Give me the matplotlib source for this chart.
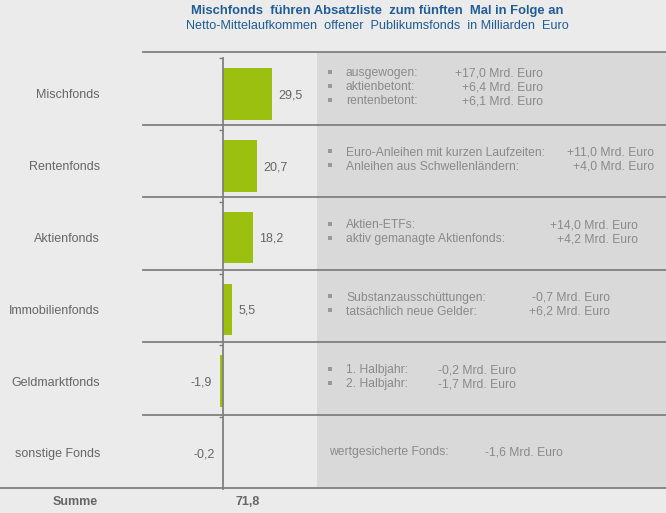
import matplotlib.pyplot as plt
import numpy as np

# data
categories = ["Mischfonds", "Rentenfonds", "Aktienfonds", "Immobilienfonds",
              "Geldmarktfonds", "sonstige Fonds"]
values = [29.5, 20.7, 18.2, 5.5, -1.9, -0.2]
total = 71.8

detail_labels = [
    ["ausgewogen:", "aktienbetont:", "rentenbetont:"],
    ["Euro-Anleihen mit kurzen Laufzeiten:", "Anleihen aus Schwellenländern:"],
    ["Aktien-ETFs:", "aktiv gemanagte Aktienfonds:"],
    ["Substanzausschüttungen:", "tatsächlich neue Gelder:"],
    ["1. Halbjahr:", "2. Halbjahr:"],
    ["wertgesicherte Fonds:"],
]
detail_values = [
    ["+17,0", "+6,4", "+6,1"],
    ["+11,0", "+4,0"],
    ["+14,0", "+4,2"],
    ["-0,7", "+6,2"],
    ["-0,2", "-1,7"],
    ["-1,6"],
]
# right edge of the value column per row (pixels)
value_right = [543, 654, 638, 610, 516, 563]

title = "Mischfonds  führen Absatzliste  zum fünften  Mal in Folge an"
subtitle = "Netto-Mittelaufkommen  offener  Publikumsfonds  in Milliarden  Euro"

W, H = 666, 513
bg = "#ebebeb"
panel = "#d9d9d9"
line_c = "#808080"
green = "#9bc00f"
txt = "#666666"
txt2 = "#8a8a8a"
blue = "#1f5c99"
plt.rcParams["font.family"] = ["Liberation Sans", "DejaVu Sans"]

fig = plt.figure(figsize=(W / 100, H / 100), dpi=100, facecolor=bg)

# overlay in pixel coordinates for panel, separators and text
ov = fig.add_axes([0, 0, 1, 1])
ov.set_xlim(0, W)
ov.set_ylim(H, 0)
ov.axis("off")

top, bottom = 52, 487
n = len(categories)
row_h = (bottom - top) / n
half_cap = 4.3  # half the cap height in px, to place baselines

ov.add_patch(plt.Rectangle((317, top), W - 317, bottom - top, color=panel, lw=0, zorder=0))
for i in range(n):
    y = top + i * row_h
    ov.plot([143, W], [y, y], color=line_c, lw=1.3, zorder=1)
ov.plot([0, W], [bottom + 1, bottom + 1], color=line_c, lw=1.3, zorder=1)

ov.text(377, 11, title, ha="center", va="center", fontsize=9.4, fontweight="bold",
        color=blue)
ov.text(377, 26, subtitle, ha="center", va="center", fontsize=9.1, color=blue)

# bar axes
x0, x1, zero_px, ppu = 143, 317, 223, 1.66
ax_top, ax_bot = 58, 489
ax = fig.add_axes([x0 / W, 1 - ax_bot / H, (x1 - x0) / W, (ax_bot - ax_top) / H])
ax.set_xlim(-(zero_px - x0) / ppu, (x1 - zero_px) / ppu)
ypos = np.arange(n)
ax.set_ylim(n - 0.5, -0.5)
ax.patch.set_alpha(0)
for s in ["top", "right", "bottom"]:
    ax.spines[s].set_visible(False)
ax.spines["left"].set_position(("data", 0))
ax.spines["left"].set_color(line_c)
ax.spines["left"].set_linewidth(1.3)
ax.set_xticks([])
ax.set_yticks(np.arange(n) - 0.5)
ax.set_yticklabels([])
ax.tick_params(axis="y", length=3, color=line_c, width=1)

ax.barh(ypos, values, height=0.72, color=green, zorder=2)
for y, v, cat in zip(ypos, values, categories):
    lab = f"{v:.1f}".replace(".", ",")
    if v >= 0:
        ax.annotate(lab, (v, y), xytext=(6, -half_cap), textcoords="offset pixels",
                    ha="left", va="baseline", fontsize=9, color=txt)
    else:
        ax.annotate(lab, (v, y), xytext=(-8, -half_cap), textcoords="offset pixels",
                    ha="right", va="baseline", fontsize=9, color=txt)
    # category label left of the plot, aligned with the bar
    ax.annotate(cat, (0, y), xycoords=("figure pixels", "data"),
                xytext=(100, -half_cap), textcoords="offset pixels",
                ha="right", va="baseline", fontsize=9, color=txt)

# details in the right panel
for i in range(n):
    cy = top + (i + 0.5) * row_h - 2.5
    labs = detail_labels[i]
    vals = detail_values[i]
    if len(labs) == 1:
        yb = cy + 2.5 + half_cap
        ov.text(329, yb, labs[0], ha="left", va="baseline", fontsize=8.7, color=txt2)
        ov.text(value_right[i], yb, vals[0] + " Mrd. Euro", ha="right",
                va="baseline", fontsize=8.7, color=txt2)
        continue
    k = len(labs)
    ys = [cy + (j - (k - 1) / 2) * 14 for j in range(k)]
    for yy, lab, val in zip(ys, labs, vals):
        ov.plot(330, yy, marker="s", ms=3, color="#999999", mew=0)
        ov.text(346, yy + half_cap, lab, ha="left", va="baseline", fontsize=8.7, color=txt2)
        ov.text(value_right[i], yy + half_cap, val + " Mrd. Euro", ha="right",
                va="baseline", fontsize=8.7, color=txt2)

ov.text(75, 501 + half_cap, "Summe", ha="center", va="baseline", fontsize=9,
        fontweight="bold", color=txt)
ov.text(248, 501 + half_cap, f"{total:.1f}".replace(".", ","), ha="center",
        va="baseline", fontsize=9, fontweight="bold", color=txt)

fig.savefig("out.png", dpi=100, facecolor=bg)
